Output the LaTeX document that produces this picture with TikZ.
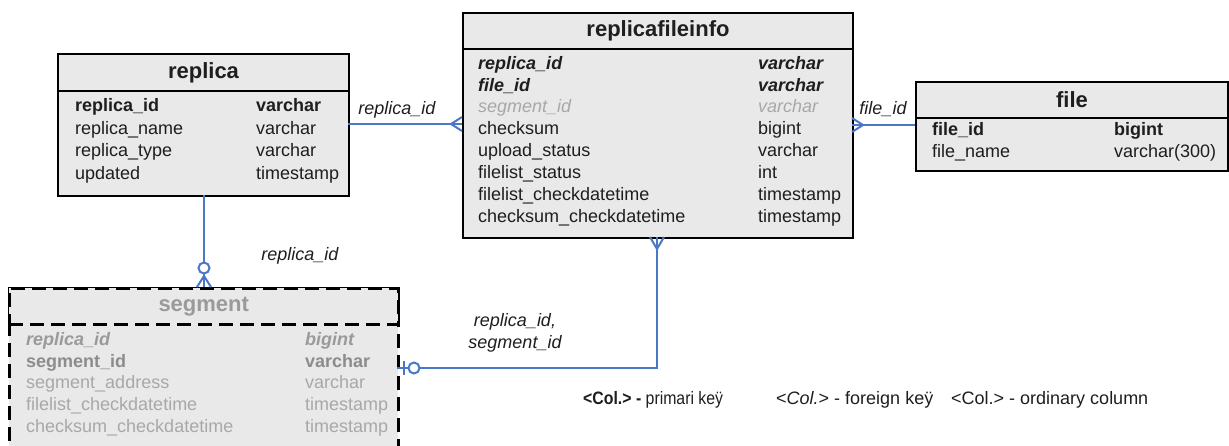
\documentclass[tikz,border=0pt]{standalone}
\usepackage{fontspec}
\usepackage{graphicx}
\setmainfont{Liberation Sans}
\definecolor{boxfill}{HTML}{E9E9E9}
\definecolor{txt}{HTML}{1E1E1E}
\definecolor{fkgray}{HTML}{A8A8A8}
\definecolor{seggray}{HTML}{9A9A9A}
\definecolor{segdark}{HTML}{8C8C8C}
\definecolor{conn}{HTML}{4A78C8}
\newcommand{\cellfont}{\fontsize{18}{22}\selectfont}
\newcommand{\ttlfont}{\fontsize{22}{26}\selectfont\bfseries}
\newcommand{\lgfont}{\fontsize{18}{21}\selectfont}
\begin{document}
\begin{tikzpicture}[x=1pt,y=-1pt,
  tbl/.style={draw=black, line width=2pt, fill=boxfill, anchor=north west, inner sep=0pt},
  thead/.style={draw=black, line width=2pt, fill=boxfill, anchor=north west, inner sep=0pt, font=\ttlfont, text=txt},
  dsh/.style={dash pattern=on 14pt off 7pt, line width=2.5pt},
  cell/.style={anchor=west, inner sep=0pt, font=\cellfont, text=txt, text height=13pt, text depth=4pt},
  pk/.style={cell, font=\cellfont\bfseries},
  fk/.style={cell, font=\cellfont\bfseries\itshape},
  gfk/.style={cell, font=\cellfont\itshape, text=fkgray},
  lbl/.style={inner sep=0pt, font=\cellfont\itshape, text=txt, align=center},
  cline/.style={draw=conn, line width=2pt},
  lg/.style={anchor=west, inner sep=0pt, font=\lgfont, text=txt, text height=13pt, text depth=4pt}
]
\useasboundingbox (0,0) rectangle (1229,445);

% ---------------- replica ----------------
\node[tbl, minimum width=291pt, minimum height=142pt] (replica) at (57,53) {};
\node[thead, minimum width=291pt, minimum height=37pt] (replicaH) at (57,53) {replica};
\node[pk] (rp1) at (75,107) {replica\_id};
\node[pk] (rp1t) at (256,107) {varchar};
\node[cell] (rp2) at (75,130) {replica\_name};
\node[cell] (rp2t) at (256,130) {varchar};
\node[cell] (rp3) at (75,152) {replica\_type};
\node[cell] (rp3t) at (256,152) {varchar};
\node[cell] (rp4) at (75,175) {updated};
\node[cell] (rp4t) at (256,175) {timestamp};

% ---------------- replicafileinfo ----------------
\node[tbl, minimum width=390pt, minimum height=225pt] (rfi) at (462,12) {};
\node[thead, minimum width=390pt, minimum height=36pt] (rfiH) at (462,12) {replicafileinfo};
\node[fk] (rf1) at (478,65) {replica\_id};
\node[fk] (rf1t) at (758,65) {varchar};
\node[fk] (rf2) at (478,87) {file\_id};
\node[fk] (rf2t) at (758,87) {varchar};
\node[gfk] (rf3) at (478,108) {segment\_id};
\node[gfk] (rf3t) at (758,108) {varchar};
\node[cell] (rf4) at (478,130) {checksum};
\node[cell] (rf4t) at (758,130) {bigint};
\node[cell] (rf5) at (478,152) {upload\_status};
\node[cell] (rf5t) at (758,152) {varchar};
\node[cell] (rf6) at (478,174) {filelist\_status};
\node[cell] (rf6t) at (758,174) {int};
\node[cell] (rf7) at (478,196) {filelist\_checkdatetime};
\node[cell] (rf7t) at (758,196) {timestamp};
\node[cell] (rf8) at (478,218) {checksum\_checkdatetime};
\node[cell] (rf8t) at (758,218) {timestamp};

% ---------------- file ----------------
\node[tbl, minimum width=312pt, minimum height=89pt] (file) at (915,81) {};
\node[thead, minimum width=312pt, minimum height=36pt] (fileH) at (915,81) {file};
\node[pk] (fl1) at (932,131) {file\_id};
\node[pk] (fl1t) at (1114,131) {bigint};
\node[cell] (fl2) at (932,153) {file\_name};
\node[cell] (fl2t) at (1114,153) {varchar(300)};

% ---------------- segment ----------------
\node[tbl, dsh, minimum width=389pt, minimum height=175pt] (segment) at (8,287) {};
\node[thead, dsh, minimum width=389pt, minimum height=36pt, text=seggray] (segmentH) at (8,287) {segment};
\node[fk, text=seggray] (sg1) at (26,341) {replica\_id};
\node[fk, text=seggray] (sg1t) at (305,341) {bigint};
\node[pk, text=segdark] (sg2) at (26,363) {segment\_id};
\node[pk, text=segdark] (sg2t) at (305,363) {varchar};
\node[cell, text=fkgray] (sg3) at (26,384) {segment\_address};
\node[cell, text=fkgray] (sg3t) at (305,384) {varchar};
\node[cell, text=fkgray] (sg4) at (26,406) {filelist\_checkdatetime};
\node[cell, text=fkgray] (sg4t) at (305,406) {timestamp};
\node[cell, text=fkgray] (sg5) at (26,428) {checksum\_checkdatetime};
\node[cell, text=fkgray] (sg5t) at (305,428) {timestamp};

% ---------------- connectors ----------------
% replica -- replicafileinfo
\coordinate (c1a) at (348,124);
\coordinate (c1b) at (462,124);
\draw[cline] (c1a) -- (c1b);
\draw[cline] (451,124) -- (462,117) (451,124) -- (462,131);
\node[lbl] (l1) at (397,110) {replica\_id};

% file -- replicafileinfo
\coordinate (c2a) at (915,125);
\coordinate (c2b) at (852,125);
\draw[cline] (c2a) -- (c2b);
\draw[cline] (863,125) -- (852,118) (863,125) -- (852,132);
\node[lbl] (l2) at (883,109) {file\_id};

% replica -- segment
\coordinate (c3a) at (204,195);
\coordinate (c3b) at (204,287);
\draw[cline] (c3a) -- (c3b);
\draw[cline] (204,276) -- (197,287) (204,276) -- (211,287);
\draw[cline, fill=white] (204,268) circle (5.5pt);
\node[lbl] (l3) at (300,256) {replica\_id};

% replicafileinfo -- segment
\coordinate (c4a) at (657,237);
\coordinate (c4m) at (657,368);
\coordinate (c4b) at (397,368);
\draw[cline] (c4a) -- (c4m) -- (c4b);
\draw[cline] (657,249) -- (650,237) (657,249) -- (664,237);
\draw[cline] (404,361) -- (404,375);
\draw[cline, fill=white] (414,368) circle (5.5pt);
\node[lbl] (l4) at (515,333) {replica\_id,\\segment\_id};

% ---------------- legend ----------------
\node[lg] (lg1) at (583,400) {\scalebox{0.88}[1]{\textbf{<Col.> -} primari keÿ}};
\node[lg] (lg2) at (776,400) {<\textit{Col.}> - foreign keÿ};
\node[lg] (lg3) at (951,400) {<Col.> - ordinary column};
\end{tikzpicture}
\end{document}
